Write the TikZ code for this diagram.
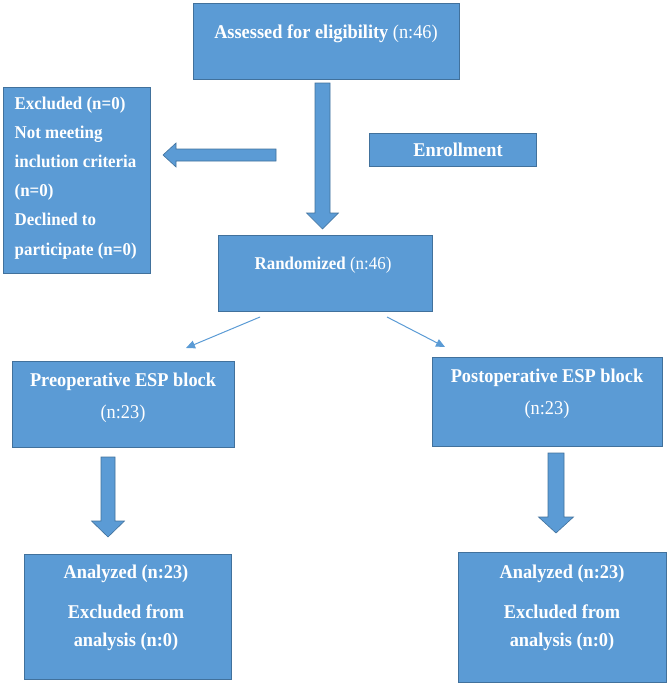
\documentclass[tikz,border=0pt]{standalone}
\usepackage{fontspec}
\setmainfont{Liberation Serif}[FakeStretch=0.94]
\usetikzlibrary{arrows.meta,calc}
\definecolor{boxfill}{HTML}{5B9BD5}
\definecolor{boxline}{HTML}{41719C}
\tikzset{
  flowbox/.style={draw=boxline,line width=0.8pt,fill=boxfill,inner sep=0pt},
  barrow/.style={draw=boxline,line width=0.6pt,fill=boxfill},
  thinarrow/.style={draw=boxfill,line width=1pt,-{Triangle[length=9pt,width=8pt]}},
  txt/.style={text=white,inner sep=0pt,anchor=base,font=\fontsize{19.5}{22}\selectfont},
  txts/.style={text=white,inner sep=0pt,anchor=base,font=\fontsize{18}{20}\selectfont}
}
\newcommand{\downarrowblk}[5]{% x, ystart, ytip, shaft half, head half
  \draw[barrow] (#1-#4,#2) -- (#1+#4,#2) -- (#1+#4,#3-16) -- (#1+#5,#3-16) -- (#1,#3) -- (#1-#5,#3-16) -- (#1-#4,#3-16) -- cycle;}
\begin{document}
\begin{tikzpicture}[x=1pt,y=-1pt]
\useasboundingbox (0,0) rectangle (667,685);
% boxes
\node[flowbox,minimum width=266pt,minimum height=76pt] (assess) at (326.5,41) {};
\node[flowbox,minimum width=147pt,minimum height=186pt] (excl) at (76.5,180) {};
\node[flowbox,minimum width=167pt,minimum height=33pt] (enrol) at (452.5,149.5) {};
\node[flowbox,minimum width=214pt,minimum height=76pt] (rand) at (325,273.5) {};
\node[flowbox,minimum width=222pt,minimum height=86pt] (pre) at (123,404) {};
\node[flowbox,minimum width=230pt,minimum height=89pt] (post) at (547,401.5) {};
\node[flowbox,minimum width=207pt,minimum height=125pt] (anl) at (127.5,616.5) {};
\node[flowbox,minimum width=208pt,minimum height=130pt] (anr) at (562,617) {};
% texts
\node[txt] (t1) at (326,39) {\textbf{Assessed for eligibility} (n:46)};
\node[txts,anchor=base west] (e1) at (14.5,109) {\textbf{Excluded (n=0)}};
\node[txts,anchor=base west] (e2) at (14.5,138.2) {\textbf{Not meeting}};
\node[txts,anchor=base west] (e3) at (14.5,167.4) {\textbf{inclution criteria}};
\node[txts,anchor=base west] (e4) at (14.5,196.6) {\textbf{(n=0)}};
\node[txts,anchor=base west] (e5) at (14.5,225.8) {\textbf{Declined to}};
\node[txts,anchor=base west] (e6) at (14.5,255) {\textbf{participate (n=0)}};
\node[txt] (t2) at (458,156) {\textbf{Enrollment}};
\node[txts] (t3) at (323,269) {\textbf{Randomized} (n:46)};
\node[txt] (p1) at (123,386) {\textbf{Preoperative ESP block}};
\node[txt] (p2) at (123,418) {(n:23)};
\node[txt] (q1) at (547,382) {\textbf{Postoperative ESP block}};
\node[txt] (q2) at (547,414) {(n:23)};
\node[txt] (a1) at (126,578) {\textbf{Analyzed (n:23)}};
\node[txt] (a2) at (126,618) {\textbf{Excluded from}};
\node[txt] (a3) at (126,646) {\textbf{analysis (n:0)}};
\node[txt] (b1) at (562,578) {\textbf{Analyzed (n:23)}};
\node[txt] (b2) at (562,618) {\textbf{Excluded from}};
\node[txt] (b3) at (562,646) {\textbf{analysis (n:0)}};
% block arrows
\downarrowblk{322.5}{83}{229}{7.5}{16}
\draw[barrow] (276,149) -- (276,161) -- (176,161) -- (176,167) -- (163,155) -- (176,143) -- (176,149) -- cycle;
\downarrowblk{108}{457}{537}{7}{16.5}
\downarrowblk{556}{453}{533}{8}{17.5}
% thin arrows
\coordinate (r1) at (260,317);
\coordinate (r2) at (387,317);
\coordinate (pt) at (186,348);
\coordinate (qt) at (445,347);
\draw[thinarrow] (r1) -- (pt);
\draw[thinarrow] (r2) -- (qt);
\end{tikzpicture}
\end{document}
